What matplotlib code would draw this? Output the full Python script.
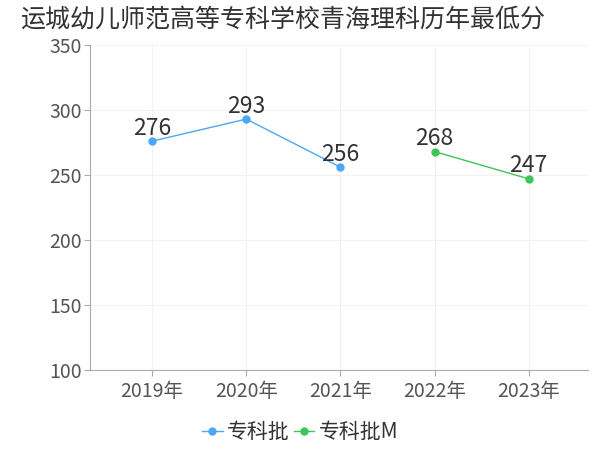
import matplotlib
matplotlib.use('Agg')
import matplotlib.pyplot as plt

plt.rcParams['font.family'] = ['Noto Sans CJK SC', 'DejaVu Sans']

years = ['2019年', '2020年', '2021年', '2022年', '2023年']
batch1_x = [0, 1, 2]
batch1_y = [276, 293, 256]
batch2_x = [3, 4]
batch2_y = [268, 247]
yticks = [100, 150, 200, 250, 300, 350]

blue = '#4aa8f7'
green = '#3ec45c'

fig = plt.figure(figsize=(6, 4.5), dpi=100)
ax = fig.add_axes([0.15, 0.178, 0.83, 0.722])

ax.plot(batch1_x, batch1_y, color=blue, lw=1, marker='o', ms=5, label='专科批')
ax.plot(batch2_x, batch2_y, color=green, lw=1, marker='o', ms=5, label='专科批M')

for x, y in zip(batch1_x + batch2_x, batch1_y + batch2_y):
    ax.annotate(str(y), (x, y), xytext=(0, 1), textcoords='offset points',
                ha='center', va='bottom', fontsize=16.5, color='#333333')

ax.set_xlim(-0.66, 4.63)
ax.set_ylim(100, 350)
ax.set_xticks(range(len(years)))
ax.set_xticklabels(years)
ax.set_yticks(yticks)
ax.grid(True, color='#f2f2f2', lw=0.8)
ax.set_axisbelow(True)
for s in ['top', 'right']:
    ax.spines[s].set_visible(False)
ax.spines['left'].set_color('#aaaaaa')
ax.spines['bottom'].set_color('#aaaaaa')
ax.tick_params(axis='both', colors='#aaaaaa', labelcolor='#555555', labelsize=14, length=4)
ax.tick_params(axis='x', pad=4)
ax.tick_params(axis='y', pad=2)

fig.text(0.033, 0.955, '运城幼儿师范高等专科学校青海理科历年最低分', fontsize=18,
         color='#333333', ha='left', va='center')

fig.legend(loc='center', bbox_to_anchor=(0.5, 0.04), ncol=2, frameon=False,
           fontsize=15, handlelength=1.0, handletextpad=0.2, columnspacing=0.2,
           labelcolor='#333333')

fig.savefig('out.png', dpi=100)
